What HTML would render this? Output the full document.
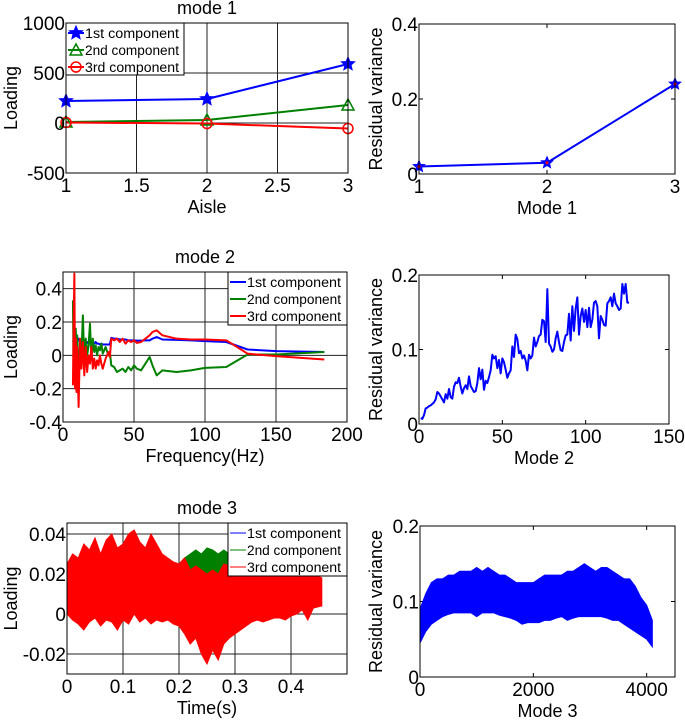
<!DOCTYPE html>
<html><head><meta charset="utf-8"><style>
body{margin:0;background:#fff;}
svg{display:block;font-family:"Liberation Sans",Arial,sans-serif;}
</style></head><body>
<svg id="fig" width="685" height="720" viewBox="0 0 685 720" xmlns="http://www.w3.org/2000/svg"></svg>
<script>
// ---- data ----
const aisleX = [1, 2, 3];
const m1Comp1 = [220, 240, 590];
const m1Comp2 = [10, 30, 180];
const m1Comp3 = [5, -5, -55];
const rv1X = [1, 2, 3];
const rv1 = [0.02, 0.03, 0.24];
const freq = [7,7.5,8,8.5,9,9.5,10,11,12,13,14,15,16,17,18,19,20,21,22,23,24,25,26,27,28,30,32,33,34,36,38,40,42,44,46,48,50,52,55,58,61,63,66,70,80,90,100,115,130,150,184];
const m2Comp1 = [0.08,0.09,0.1,0.08,0.09,0.08,0.09,0.1,0.08,0.09,0.08,0.09,0.07,0.08,0.07,0.08,0.07,0.08,0.07,0.08,0.07,0.07,0.065,0.07,0.065,0.065,0.065,0.065,0.105,0.1,0.1,0.095,0.095,0.095,0.09,0.09,0.09,0.088,0.088,0.09,0.09,0.1,0.11,0.095,0.093,0.09,0.085,0.08,0.035,0.025,0.02];
const m2Comp2 = [0.33,-0.15,0.1,0.05,0.16,-0.05,0.12,-0.1,0.05,0.0,0.24,-0.05,0.1,0.0,0.06,0.19,-0.02,0.1,0.02,0.06,0.0,0.05,0.03,0.07,0.01,0.05,0.0,0.02,-0.06,-0.07,-0.1,-0.09,-0.08,-0.1,-0.07,-0.09,-0.06,-0.08,-0.09,-0.05,-0.01,-0.06,-0.12,-0.09,-0.1,-0.09,-0.075,-0.07,0.005,0.005,0.02];
const m2Comp3 = [-0.18,0.2,0.49,-0.2,0.1,-0.22,0.05,-0.31,0.1,-0.08,0.08,-0.12,0.05,-0.1,0.0,-0.05,0.05,-0.08,-0.02,-0.08,-0.03,-0.06,0.0,-0.05,-0.08,-0.02,0.02,-0.01,0.1,0.09,0.1,0.08,0.1,0.07,0.09,0.08,0.09,0.075,0.08,0.1,0.12,0.14,0.15,0.12,0.1,0.095,0.095,0.09,0.01,-0.005,-0.025];
const rv2 = [0.008,0.007,0.012,0.021,0.022,0.024,0.025,0.027,0.029,0.033,0.043,0.041,0.037,0.033,0.029,0.04,0.034,0.047,0.036,0.034,0.05,0.056,0.055,0.062,0.05,0.041,0.048,0.052,0.047,0.064,0.051,0.047,0.043,0.044,0.055,0.075,0.06,0.073,0.046,0.058,0.055,0.063,0.072,0.093,0.088,0.091,0.075,0.086,0.068,0.088,0.083,0.073,0.062,0.068,0.072,0.104,0.09,0.12,0.114,0.095,0.098,0.088,0.092,0.085,0.072,0.093,0.088,0.092,0.116,0.104,0.11,0.118,0.12,0.14,0.138,0.11,0.181,0.108,0.104,0.097,0.1,0.115,0.124,0.11,0.099,0.098,0.11,0.119,0.12,0.148,0.112,0.158,0.125,0.155,0.17,0.12,0.145,0.155,0.137,0.153,0.13,0.156,0.13,0.14,0.163,0.165,0.158,0.115,0.145,0.14,0.133,0.132,0.162,0.165,0.17,0.158,0.175,0.162,0.158,0.153,0.155,0.188,0.175,0.188,0.163,0.163];
const timeBins = [0,0.01,0.02,0.03,0.04,0.05,0.06,0.07,0.08,0.09,0.1,0.11,0.12,0.13,0.14,0.15,0.16,0.17,0.18,0.19,0.2,0.21,0.22,0.23,0.24,0.25,0.26,0.27,0.28,0.29,0.3,0.31,0.32,0.33,0.34,0.35,0.36,0.37,0.38,0.39,0.4,0.41,0.42,0.43,0.44,0.455];
const m3RedUpper = [0.025,0.03,0.028,0.035,0.032,0.038,0.03,0.037,0.04,0.033,0.035,0.04,0.042,0.036,0.033,0.04,0.035,0.03,0.028,0.026,0.025,0.028,0.022,0.024,0.022,0.02,0.022,0.02,0.025,0.024,0.022,0.025,0.024,0.022,0.025,0.022,0.025,0.022,0.024,0.025,0.022,0.023,0.02,0.025,0.02,0.018];
const m3RedLower = [0.0,-0.003,-0.005,-0.008,-0.004,-0.002,-0.006,-0.003,-0.004,-0.008,-0.003,-0.005,0.0,-0.004,-0.002,-0.005,-0.003,-0.004,-0.003,-0.005,-0.006,-0.01,-0.015,-0.012,-0.02,-0.025,-0.018,-0.023,-0.015,-0.012,-0.01,-0.008,-0.006,-0.004,-0.003,-0.004,-0.003,-0.002,-0.002,-0.003,-0.001,0.0,0.002,-0.003,0.003,0.004];
const greenBins = [0.2,0.21,0.22,0.23,0.24,0.25,0.26,0.27,0.28,0.29,0.3,0.31,0.32,0.33,0.34,0.35];
const m3GreenUpper = [0.025,0.028,0.03,0.032,0.03,0.033,0.032,0.03,0.032,0.03,0.03,0.028,0.029,0.026,0.024,0.022];
const m3GreenLower = [0.01,0.012,0.012,0.013,0.012,0.012,0.012,0.012,0.012,0.012,0.012,0.012,0.012,0.012,0.012,0.012];
const rv3Bins = [0,100,200,300,400,500,600,700,800,900,1000,1100,1200,1300,1400,1500,1600,1700,1800,1900,2000,2100,2200,2300,2400,2500,2600,2700,2800,2900,3000,3100,3200,3300,3400,3500,3600,3700,3800,3900,4000,4100];
const rv3Upper = [0.09,0.11,0.125,0.13,0.13,0.135,0.135,0.14,0.14,0.14,0.145,0.14,0.145,0.14,0.135,0.135,0.13,0.125,0.125,0.125,0.125,0.13,0.135,0.135,0.135,0.135,0.14,0.14,0.145,0.15,0.145,0.14,0.145,0.145,0.14,0.135,0.13,0.13,0.12,0.105,0.095,0.075];
const rv3Lower = [0.045,0.06,0.07,0.075,0.08,0.083,0.085,0.085,0.085,0.085,0.08,0.085,0.085,0.085,0.082,0.08,0.078,0.075,0.07,0.072,0.072,0.072,0.075,0.075,0.078,0.08,0.075,0.078,0.08,0.08,0.08,0.08,0.08,0.078,0.075,0.075,0.07,0.065,0.06,0.055,0.05,0.04];
const legendLabels = ["1st component","2nd component","3rd component"];

// ---- helpers ----
const NS = "http://www.w3.org/2000/svg";
const fig = document.getElementById("fig");
function mk(tag, attrs, parent){const e=document.createElementNS(NS,tag);for(const k in attrs)e.setAttribute(k,attrs[k]);(parent||fig).appendChild(e);return e;}
function txt(s, attrs, parent){const e=mk("text",attrs,parent);e.textContent=s;return e;}
const BLUE="#0000ff", GREEN="#008000", RED="#ff0000";

function panel(o){
  const g=mk("g",{});
  
  
  const sx=v=>o.L+(v-o.x0)/(o.x1-o.x0)*(o.R-o.L);
  const sy=v=>o.B-(v-o.y0)/(o.y1-o.y0)*(o.B-o.T);
  if(o.grid){
    o.xt.forEach(v=>{const l=mk("line",{x1:sx(v),x2:sx(v),y1:o.T,y2:o.B,stroke:"#222","stroke-width":1},g);});
    o.yt.forEach(v=>{const l=mk("line",{x1:o.L,x2:o.R,y1:sy(v),y2:sy(v),stroke:"#222","stroke-width":1},g);});
  } else {
    o.xt.forEach(v=>{mk("line",{x1:sx(v),x2:sx(v),y1:o.B,y2:o.B-4,stroke:"#000"},g);mk("line",{x1:sx(v),x2:sx(v),y1:o.T,y2:o.T+4,stroke:"#000"},g);});
    o.yt.forEach(v=>{mk("line",{x1:o.L,x2:o.L+4,y1:sy(v),y2:sy(v),stroke:"#000"},g);mk("line",{x1:o.R,x2:o.R-4,y1:sy(v),y2:sy(v),stroke:"#000"},g);});
  }
  const plot=mk("g",{},g);
  
  
  o.draw(plot,sx,sy);
  const fr=mk("rect",{x:o.L,y:o.T,width:o.R-o.L,height:o.B-o.T,fill:"none",stroke:"#000","stroke-width":1},g);
  
  o.xt.forEach((v,i)=>{const t=txt(o.xl[i],{x:sx(v),y:o.B+19,"text-anchor":"middle","font-size":19},g);});
  o.yt.forEach((v,i)=>{const t=txt(o.yl[i],{x:o.L-1,y:sy(v)+7,"text-anchor":"end","font-size":19},g);});
  const xa=txt(o.xlabel,{x:(o.L+o.R)/2,y:o.B+40,"text-anchor":"middle","font-size":18},g);
  
  const ylx=o.ylx, yly=(o.T+o.B)/2;
  const ya=txt(o.ylabel,{x:ylx,y:yly,"text-anchor":"middle","font-size":18,transform:`rotate(-90 ${ylx} ${yly})`},g);
  
  if(o.title){const tt=txt(o.title,{x:(o.L+o.R)/2,y:o.T-9,"text-anchor":"middle","font-size":18},g);}
  return g;
}
function line(p,xs,ys,sx,sy,color,w,name){
  const pl=mk("polyline",{points:xs.map((x,i)=>sx(x)+","+sy(ys[i])).join(" "),fill:"none",stroke:color,"stroke-width":w||2,"stroke-linejoin":"round"},p);
  return pl;
}
function band(p,xs,up,lo,sx,sy,color,name){
  const pts=xs.map((x,i)=>sx(x)+","+sy(up[i])).concat(xs.slice().reverse().map((x,j)=>sx(x)+","+sy(lo[xs.length-1-j])));
  const pg=mk("polygon",{points:pts.join(" "),fill:color,stroke:color,"stroke-width":1},p);
  return pg;
}
function star(p,cx,cy,r,color){
  const pts=[];for(let k=0;k<10;k++){const a=-Math.PI/2+k*Math.PI/5;const rr=k%2?r*0.45:r;pts.push((cx+rr*Math.cos(a))+","+(cy+rr*Math.sin(a)));}
  const s=mk("polygon",{points:pts.join(" "),fill:color,stroke:color},p);
}
function legend(p,x,y,w,h,items){
  const g=mk("g",{},p);
  
  mk("rect",{x:x,y:y,width:w,height:h,fill:"#fff",stroke:"#000"},g);
  items.forEach((it,i)=>{
    const yy=y+10+i*17;
    const e=mk("g",{},g);
    mk("line",{x1:x+2,x2:x+18,y1:yy,y2:yy,stroke:it.c,"stroke-width":it.w||2},e);
    if(it.m)it.m(e,x+10,yy);
    txt(legendLabels[i],{x:x+19,y:yy+5,"font-size":13.5,textLength:94,lengthAdjust:"spacingAndGlyphs"},e);
  });
}

// Panel 1
panel({name:"mode1-loading-chart",L:66,R:348,T:23,B:173,x0:1,x1:3,y0:-500,y1:1000,grid:true,
  xt:[1,1.5,2,2.5,3],xl:["1","1.5","2","2.5","3"],yt:[-500,0,500,1000],yl:["-500","0","500","1000"],
  xlabel:"Aisle",ylabel:"Loading",ylx:17,title:"mode 1",
  draw:(p,sx,sy)=>{
    line(p,aisleX,m1Comp2,sx,sy,GREEN,2,"series-2nd-component");
    line(p,aisleX,m1Comp3,sx,sy,RED,2,"series-3rd-component");
    line(p,aisleX,m1Comp1,sx,sy,BLUE,2,"series-1st-component");
    aisleX.forEach((x,i)=>{star(p,sx(x),sy(m1Comp1[i]),7,BLUE);
      const t=mk("polygon",{points:`${sx(x)},${sy(m1Comp2[i])-6} ${sx(x)-6},${sy(m1Comp2[i])+5} ${sx(x)+6},${sy(m1Comp2[i])+5}`,fill:"none",stroke:GREEN,"stroke-width":1.5},p);
      const c=mk("circle",{cx:sx(x),cy:sy(m1Comp3[i]),r:5,fill:"none",stroke:RED,"stroke-width":1.5},p);});
    legend(p,66,23,118,52,[{c:BLUE,m:(e,x,y)=>star(e,x,y,7,BLUE)},{c:GREEN,m:(e,x,y)=>mk("polygon",{points:`${x},${y-6} ${x-6},${y+5} ${x+6},${y+5}`,fill:"none",stroke:GREEN,"stroke-width":1.5},e)},{c:RED,m:(e,x,y)=>mk("circle",{cx:x,cy:y,r:5,fill:"none",stroke:RED,"stroke-width":1.5},e)}]);
  }});
// Panel 2
panel({name:"mode1-residual-variance-chart",L:419,R:675,T:24,B:174,x0:1,x1:3,y0:0,y1:0.4,grid:false,
  xt:[1,2,3],xl:["1","2","3"],yt:[0,0.2,0.4],yl:["0","0.2","0.4"],
  xlabel:"Mode 1",ylabel:"Residual variance",ylx:382,
  draw:(p,sx,sy)=>{line(p,rv1X,rv1,sx,sy,BLUE,2,"residual-variance-line");
    rv1X.forEach((x,i)=>{star(p,sx(x),sy(rv1[i]),6,BLUE);mk("circle",{cx:sx(x),cy:sy(rv1[i]),r:1.5,fill:RED},p);});}});
// Panel 3
panel({name:"mode2-loading-chart",L:63,R:347,T:272,B:422,x0:0,x1:200,y0:-0.4,y1:0.5,grid:true,
  xt:[0,50,100,150,200],xl:["0","50","100","150","200"],yt:[-0.4,-0.2,0,0.2,0.4],yl:["-0.4","-0.2","0","0.2","0.4"],
  xlabel:"Frequency(Hz)",ylabel:"Loading",ylx:17,title:"mode 2",
  draw:(p,sx,sy)=>{
    line(p,freq,m2Comp1,sx,sy,BLUE,2,"series-1st-component");
    line(p,freq,m2Comp2,sx,sy,GREEN,2,"series-2nd-component");
    line(p,freq,m2Comp3,sx,sy,RED,2,"series-3rd-component");
    legend(p,228,272,119,53,[{c:BLUE},{c:GREEN},{c:RED}]);
  }});
// Panel 4
panel({name:"mode2-residual-variance-chart",L:419,R:669,T:275,B:424,x0:0,x1:150,y0:0,y1:0.2,grid:false,
  xt:[0,50,100,150],xl:["0","50","100","150"],yt:[0,0.1,0.2],yl:["0","0.1","0.2"],
  xlabel:"Mode 2",ylabel:"Residual variance",ylx:382,
  draw:(p,sx,sy)=>{line(p,rv2.map((v,i)=>i+1),rv2,sx,sy,BLUE,2,"residual-variance-line");}});
// Panel 5
panel({name:"mode3-loading-chart",L:67,R:347,T:523,B:674,x0:0,x1:0.5,y0:-0.03,y1:0.0455,grid:true,
  xt:[0,0.1,0.2,0.3,0.4],xl:["0","0.1","0.2","0.3","0.4"],yt:[-0.02,0,0.02,0.04],yl:["-0.02","0","0.02","0.04"],
  xlabel:"Time(s)",ylabel:"Loading",ylx:17,title:"mode 3",
  draw:(p,sx,sy)=>{
    band(p,greenBins,m3GreenUpper,m3GreenLower,sx,sy,GREEN,"series-2nd-component");
    band(p,timeBins,m3RedUpper,m3RedLower,sx,sy,RED,"series-3rd-component");
    legend(p,228,523,119,53,[{c:BLUE,w:1},{c:GREEN,w:1},{c:RED,w:1}]);
  }});
// Panel 6
panel({name:"mode3-residual-variance-chart",L:420,R:675,T:526,B:677,x0:0,x1:4500,y0:0,y1:0.2,grid:false,
  xt:[0,2000,4000],xl:["0","2000","4000"],yt:[0,0.1,0.2],yl:["0","0.1","0.2"],
  xlabel:"Mode 3",ylabel:"Residual variance",ylx:382,
  draw:(p,sx,sy)=>{band(p,rv3Bins,rv3Upper,rv3Lower,sx,sy,BLUE,"residual-variance-band");}});
</script>
</body></html>
